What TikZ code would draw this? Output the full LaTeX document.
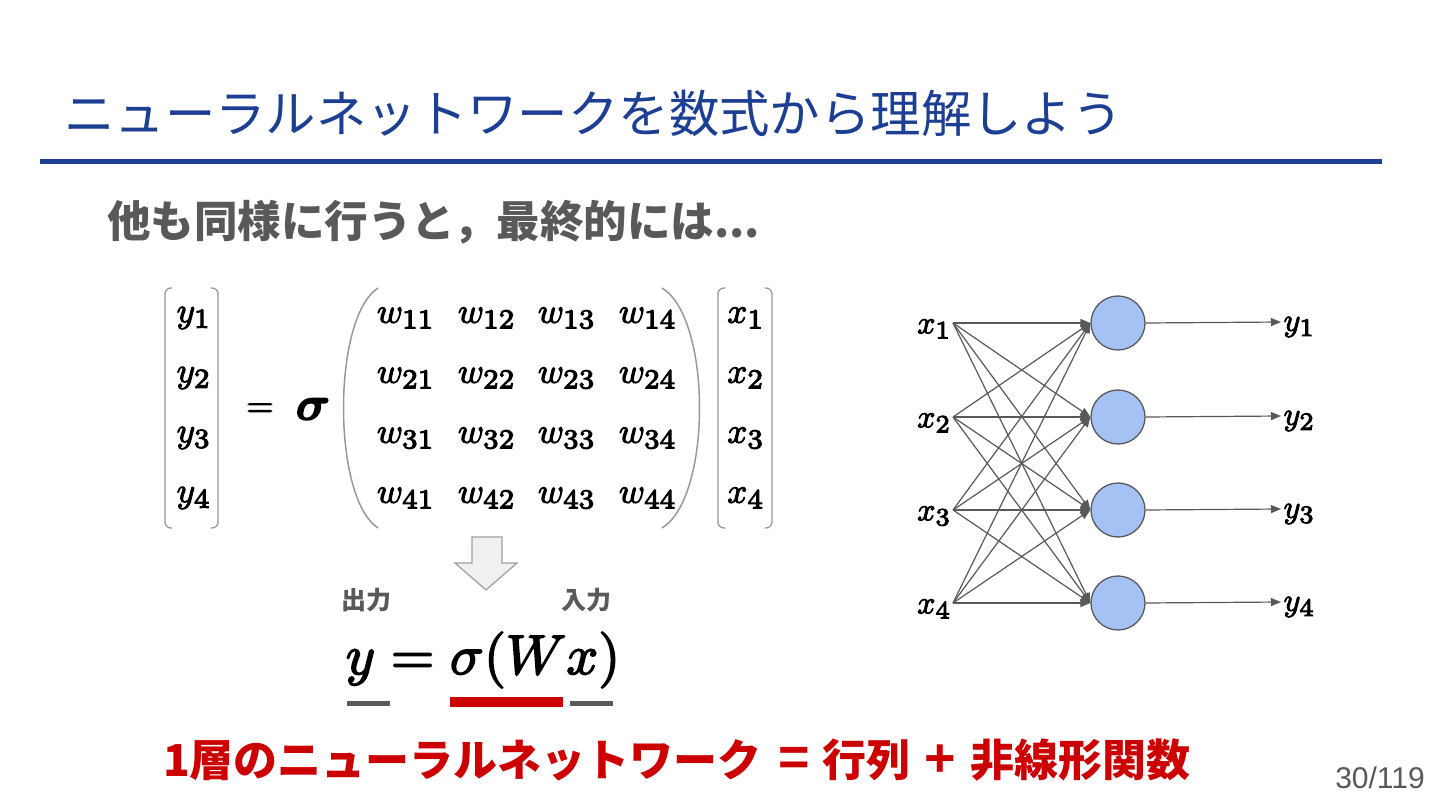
\documentclass[tikz,border=0pt]{standalone}
\usepackage{amsmath,bm}
\usepackage{fontspec}
\newfontfamily\cjk{Noto Sans CJK JP}
\newfontfamily\arialf{Liberation Sans}
\usetikzlibrary{arrows.meta}
\definecolor{titleblue}{HTML}{1C3F94}
\definecolor{txtgray}{HTML}{595959}
\definecolor{redtxt}{HTML}{CC0000}
\definecolor{nodefill}{HTML}{A4C2F4}
\definecolor{edgegray}{HTML}{595959}
\newcommand\fbm[1]{\special{pdf:code q 0.28 w 2 Tr}#1\special{pdf:code Q}}
\newcommand\sbs[1]{_{\scalebox{1.12}{$\scriptstyle #1$}}}
\tikzset{
  mat/.style={inner sep=0pt, scale=3.5},
  netlab/.style={inner sep=0pt, scale=3.2},
  neuron/.style={circle, draw=edgegray, line width=1.3pt, fill=nodefill, minimum size=54pt, inner sep=0pt},
  conn/.style={draw=edgegray, line width=1.2pt, -{Triangle[length=10pt,width=8pt]}},
  brack/.style={draw=gray!80, line width=1.3pt, rounded corners=6pt},
  paren/.style={draw=gray!80, line width=1.5pt},
  redtext/.style={inner sep=0pt, text=redtxt, font=\cjk\bfseries\fontsize{44}{50}\selectfont},
  redsym/.style={inner sep=0pt, text=redtxt, font=\arialf\bfseries\fontsize{54}{60}\selectfont},
}
\begin{document}
\begin{tikzpicture}[x=1pt,y=-1pt]
\useasboundingbox[fill=white] (0,0) rectangle (1440,810);
% title
\node[anchor=west, inner sep=0pt, text=titleblue, font=\cjk\fontsize{50.4}{56}\selectfont] (title) at (64,113) {ニューラルネットワークを数式から理解しよう};
\draw[titleblue, line width=5pt] (40,162) -- (1382,162);
% subtitle
\node[anchor=west, inner sep=0pt, text=txtgray, font=\cjk\bfseries\fontsize{43.5}{48}\selectfont] (sub) at (107,222) {他も同様に行うと，最終的には...};
% y vector
\foreach \i/\yy in {1/318,2/378,3/438,4/498}{
  \node[mat] (y\i) at (194,\yy) {\fbm{$y\sbs{\i}$}};
}
\draw[brack] (172,288) -- (165,288) -- (165,528) -- (172,528);
\draw[brack] (211,288) -- (218,288) -- (218,528) -- (211,528);
\node[mat] (eq) at (260,410) {\fbm{$=$}};
\node[inner sep=0pt, scale=4.8] (sig) at (313,409) {\fbm{$\bm{\sigma}$}};
% W matrix
\foreach \r/\yy in {1/318,2/378,3/438,4/498}{
  \foreach \c/\xx in {1/406,2/487,3/567,4/648}{
    \node[mat] (w\r\c) at (\xx,\yy) {\fbm{$w\sbs{\r\c}$}};
  }
}
\draw[paren] (378,288) .. controls (332,318) and (332,498) .. (378,528);
\draw[paren] (662,288) .. controls (712,318) and (712,498) .. (662,528);
% x vector
\foreach \i/\yy in {1/318,2/378,3/438,4/498}{
  \node[mat] (x\i) at (746,\yy) {\fbm{$x\sbs{\i}$}};
}
\draw[brack] (725,288) -- (718,288) -- (718,528) -- (725,528);
\draw[brack] (765,288) -- (772,288) -- (772,528) -- (765,528);
% down block arrow
\draw[draw=gray!75, line width=1.2pt, fill=gray!12] (472,537) -- (502,537) -- (502,563) -- (517,563) -- (486,590) -- (455,563) -- (472,563) -- cycle;
% labels
\node[inner sep=0pt, text=txtgray, font=\cjk\bfseries\fontsize{25}{28}\selectfont] (outl) at (366,600) {出力};
\node[inner sep=0pt, text=txtgray, font=\cjk\bfseries\fontsize{25}{28}\selectfont] (inl) at (586,600) {入力};
% formula
\node[inner sep=0pt, scale=5.6] (formula) at (483,660) {\fbm{$y=\sigma(Wx)$}};
\draw[txtgray, line width=5pt] (347,703) -- (390,703);
\draw[redtxt, line width=10pt] (450,702) -- (563,702);
\draw[txtgray, line width=5pt] (570,703) -- (613,703);
% bottom text
\node[redtext, anchor=west] (concl1) at (163,760) {1層のニューラルネットワーク};
\node[redsym] (eqs) at (794,761) {=};
\node[redtext, anchor=west] (concl2) at (822,760) {行列};
\node[redsym] (plus) at (940,761) {+};
\node[redtext, anchor=east] (concl3) at (1191,760) {非線形関数};
% page number
\node[anchor=east, inner sep=0pt, text=txtgray, font=\arialf\fontsize{30}{34}\selectfont] (page) at (1425,778) {30/119};
% network
\foreach \i/\yy in {1/323,2/417,3/510,4/603}{
  \coordinate (in\i) at (953,\yy);
  \node[netlab, anchor=east] (xl\i) at (952,\yy+6) {\fbm{$x\sbs{\i}$}};
  \node[neuron] (n\i) at (1118,\yy) {};
  \coordinate (out\i) at (1281,\yy-1);
  \node[netlab, anchor=west] (yl\i) at (1283,\yy+4) {\fbm{$y\sbs{\i}$}};
}
\foreach \i in {1,2,3,4}{
  \foreach \j in {1,2,3,4}{
    \draw[conn] (in\i) -- (n\j.west);
  }
  \draw[conn] (n\i.east) -- (out\i);
}
\end{tikzpicture}
\end{document}
